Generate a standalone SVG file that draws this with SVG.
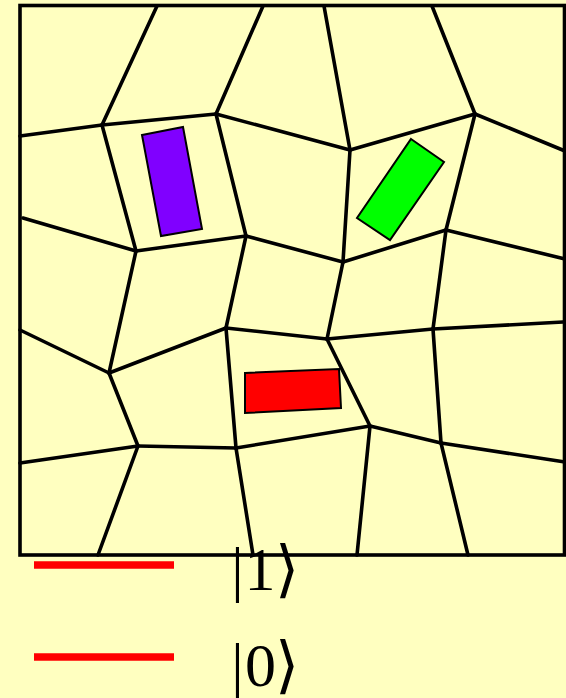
<svg xmlns="http://www.w3.org/2000/svg" width="566" height="698" viewBox="0 0 566 698">
<style>
.mesh line{stroke:#000;stroke-width:3.6;stroke-linecap:round}
.blk{stroke:#000;stroke-width:2;stroke-linejoin:miter}
.leg{stroke:#FF0000;stroke-width:7.5}
.ket{font-family:"Liberation Serif","DejaVu Serif",serif;font-size:62px;fill:#000;text-anchor:middle}
.br{font-family:"DejaVu Sans","Liberation Serif",sans-serif;font-weight:200;font-size:62px;fill:#000;text-anchor:middle}
</style>
<rect x="0" y="0" width="566" height="698" fill="#FFFFC0"/>
<g id="mesh" class="mesh">
<line x1="157" y1="6" x2="102" y2="125"/>
<line x1="263" y1="6" x2="216" y2="114"/>
<line x1="324" y1="6" x2="350" y2="150"/>
<line x1="432" y1="6" x2="475" y2="114"/>
<line x1="20" y1="136" x2="102" y2="125"/>
<line x1="102" y1="125" x2="216" y2="114"/>
<line x1="216" y1="114" x2="350" y2="150"/>
<line x1="350" y1="150" x2="475" y2="114"/>
<line x1="475" y1="114" x2="565" y2="151"/>
<line x1="102" y1="125" x2="136" y2="251"/>
<line x1="216" y1="114" x2="246" y2="236"/>
<line x1="350" y1="150" x2="343" y2="262"/>
<line x1="475" y1="114" x2="446" y2="230"/>
<line x1="23" y1="218" x2="136" y2="251"/>
<line x1="136" y1="251" x2="246" y2="236"/>
<line x1="246" y1="236" x2="343" y2="262"/>
<line x1="343" y1="262" x2="446" y2="230"/>
<line x1="446" y1="230" x2="565" y2="259"/>
<line x1="136" y1="251" x2="109" y2="373"/>
<line x1="246" y1="236" x2="226" y2="328"/>
<line x1="343" y1="262" x2="327" y2="339"/>
<line x1="446" y1="230" x2="433" y2="329"/>
<line x1="20" y1="330" x2="109" y2="373"/>
<line x1="109" y1="373" x2="226" y2="328"/>
<line x1="226" y1="328" x2="327" y2="339"/>
<line x1="327" y1="339" x2="433" y2="329"/>
<line x1="433" y1="329" x2="563" y2="322"/>
<line x1="109" y1="373" x2="138" y2="446"/>
<line x1="226" y1="328" x2="236" y2="448"/>
<line x1="327" y1="339" x2="370" y2="426"/>
<line x1="433" y1="329" x2="441" y2="443"/>
<line x1="20" y1="463" x2="138" y2="446"/>
<line x1="138" y1="446" x2="236" y2="448"/>
<line x1="236" y1="448" x2="370" y2="426"/>
<line x1="370" y1="426" x2="441" y2="443"/>
<line x1="441" y1="443" x2="565" y2="462"/>
<line x1="138" y1="446" x2="98" y2="555"/>
<line x1="236" y1="448" x2="253" y2="555"/>
<line x1="370" y1="426" x2="357" y2="555"/>
<line x1="441" y1="443" x2="468" y2="555"/>
</g>
<rect id="frame" x="20" y="5.5" width="544.5" height="549.5" fill="none" stroke="#000" stroke-width="3.6"/>
<g id="purple"><polygon class="blk" points="142,135 183,127 202,229 161,236" fill="#8000FF"/></g>
<g id="green"><polygon class="blk" points="411,139 444,162 390,240 357,218" fill="#00FF00"/></g>
<g id="red"><polygon class="blk" points="245,373 339,369 341,408 245,413" fill="#FF0000"/></g>
<g id="legend1">
<line class="leg" x1="34" y1="565" x2="174" y2="565"/>
<text class="ket" x="237.5" y="590">|</text>
<text class="ket" x="260" y="590">1</text>
<text class="br" x="287" y="590">⟩</text>
</g>
<g id="legend0">
<line class="leg" x1="34" y1="657" x2="174" y2="657"/>
<text class="ket" x="237.5" y="686">|</text>
<text class="ket" x="260.5" y="686">0</text>
<text class="br" x="287" y="686">⟩</text>
</g>
</svg>
